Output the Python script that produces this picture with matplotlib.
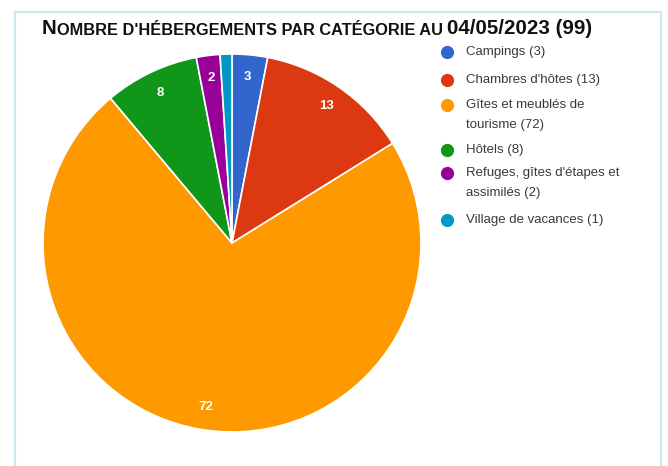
import matplotlib
matplotlib.use("Agg")
import matplotlib.pyplot as plt
from matplotlib.patches import Rectangle
from matplotlib.lines import Line2D

categories = ["Campings", "Chambres d'hôtes", "Gîtes et meublés de\ntourisme",
              "Hôtels", "Refuges, gîtes d'étapes et\nassimilés", "Village de vacances"]
values = [3, 13, 72, 8, 2, 1]
colors = ["#3366cc", "#dc3912", "#ff9900", "#109618", "#990099", "#0099c6"]
title_parts = ["N", "OMBRE D'HÉBERGEMENTS PAR CATÉGORIE AU ", "04/05/2023 (99)"]

W, H = 668, 466
fig = plt.figure(figsize=(W / 100, H / 100), dpi=100)
fig.patch.set_facecolor("white")

# panel border
fig.patches.append(Rectangle((15 / W, -0.05), (661 - 15) / W, 1.05 - 12 / H,
                             transform=fig.transFigure, fill=False,
                             edgecolor="#c9e9ef", linewidth=1.5))

cx, cy, r = 232, 243, 189
ax = fig.add_axes([(cx - r) / W, (H - cy - r) / H, 2 * r / W, 2 * r / H])
labels = [str(v) if v >= 2 else "" for v in values]
wedges, texts = ax.pie(values, colors=colors, startangle=90, counterclock=False,
                       labels=labels, labeldistance=0.88,
                       wedgeprops=dict(edgecolor="white", linewidth=1.2),
                       textprops=dict(color="white", fontsize=9.5, fontweight="bold",
                                      family="Liberation Sans"))
ax.set_xlim(-1, 1)
ax.set_ylim(-1, 1)
ax.set_aspect("equal")
ax.axis("off")
for t in texts:
    t.set_horizontalalignment("center")
    t.set_verticalalignment("center")

# title with simulated small caps
fam = ["Liberation Sans", "DejaVu Sans"]
t0 = fig.text(42 / W, 1 - 34 / H, title_parts[0], fontsize=14.8, fontweight="bold",
              family=fam, color="#111111", va="baseline", ha="left")
t1 = plt.annotate(title_parts[1], xy=(1, 0), xycoords=t0, va="bottom", ha="left",
                  fontsize=11.8, fontweight="bold", family=fam, color="#111111",
                  annotation_clip=False)
t2 = plt.annotate(title_parts[2], xy=(1, 0), xycoords=t1, va="bottom", ha="left",
                  fontsize=14.8, fontweight="bold", family=fam, color="#111111",
                  annotation_clip=False)

# legend
rows_y = [52, 80, 105, 150, 173, 220]
for lab, v, c, y in zip(categories, values, colors, rows_y):
    fig.add_artist(Line2D([447 / W], [1 - y / H], marker="o", markersize=8.5,
                          color=c, transform=fig.transFigure))
    fig.text(466 / W, 1 - (y - 6) / H, f"{lab} ({v})", fontsize=9.5,
             family="Liberation Sans", color="#3a3a3a", va="top", ha="left",
             linespacing=1.85)

fig.savefig("out.png", dpi=100, facecolor="white")
